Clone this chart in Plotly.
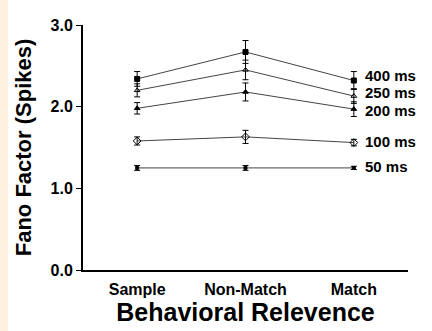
import plotly.graph_objects as go

# Behavioural conditions on the x axis
conditions = ["Sample", "Non-Match", "Match"]

# Fano factor per counting window (mean and s.e.m.)
series_names = ["400 ms", "250 ms", "200 ms", "100 ms", "50 ms"]
fano_400 = [2.34, 2.67, 2.32]
fano_250 = [2.20, 2.45, 2.13]
fano_200 = [1.98, 2.18, 1.97]
fano_100 = [1.58, 1.63, 1.56]
fano_50 = [1.25, 1.25, 1.25]
err_400 = [0.09, 0.14, 0.11]
err_250 = [0.08, 0.12, 0.09]
err_200 = [0.07, 0.11, 0.09]
err_100 = [0.05, 0.08, 0.04]
err_50 = [0.03, 0.03, 0.02]

y_ticks = [0, 1, 2, 3]
y_tick_text = ["0.0", "1.0", "2.0", "3.0"]

values = [fano_400, fano_250, fano_200, fano_100, fano_50]
errors = [err_400, err_250, err_200, err_100, err_50]
symbols = ["square", "triangle-up-open", "triangle-up", "diamond-open", "square"]
msizes = [5, 5, 5, 6, 3]
label_yshift = [5, 4, -1, 1, 1]

BOLD = "Liberation Sans, Arial, Helvetica, sans-serif"

fig = go.Figure()
for name, ys, es, sym, ms in zip(series_names, values, errors, symbols, msizes):
    fig.add_trace(go.Scatter(
        x=list(range(len(conditions))), y=ys, name=name,
        mode="lines+markers",
        line=dict(color="#444444", width=1),
        marker=dict(symbol=sym, size=ms, color="black",
                    line=dict(color="black", width=1)),
        error_y=dict(type="data", array=es, visible=True,
                     color="black", thickness=1, width=3),
        showlegend=False,
    ))

# Series labels to the right of the last point
for name, ys, dy in zip(series_names, values, label_yshift):
    fig.add_annotation(
        x=len(conditions) - 1, y=ys[-1], text=f"<b>{name}</b>",
        xanchor="left", yanchor="middle", xshift=9, yshift=dy,
        showarrow=False, font=dict(family=BOLD, size=15, color="black"),
    )

# Tinted strip at the left edge of the page
fig.add_shape(type="rect", xref="paper", yref="paper",
              x0=-0.26, x1=-0.231, y0=-0.3, y1=1.2,
              fillcolor="#fdf1df", line=dict(width=0), layer="below")

fig.update_layout(
    width=432, height=331,
    margin=dict(l=83, r=24, t=25, b=61),
    paper_bgcolor="white", plot_bgcolor="white",
    font=dict(family=BOLD, color="black"),
    xaxis=dict(
        range=[-0.5, 2.5], tickmode="array",
        tickvals=list(range(len(conditions))),
        ticktext=[f"<b>{c}</b>" for c in conditions],
        tickfont=dict(size=16), ticks="", ticklabelstandoff=4,
        showline=True, linecolor="black", linewidth=2,
        showgrid=False, zeroline=False,
        title=dict(text="<b>Behavioral Relevence</b>",
                   font=dict(size=25), standoff=2),
    ),
    yaxis=dict(
        range=[0, 3], tickmode="array", tickvals=y_ticks,
        ticktext=[f"<b>{t}</b>" for t in y_tick_text],
        tickfont=dict(size=16), ticks="outside", ticklen=5,
        tickwidth=1, tickcolor="black",
        showline=True, linecolor="black", linewidth=2,
        showgrid=False, zeroline=False,
        title=dict(text="<b>Fano Factor (Spikes)</b>",
                   font=dict(size=22), standoff=13),
    ),
)

fig.write_html("out.html")
